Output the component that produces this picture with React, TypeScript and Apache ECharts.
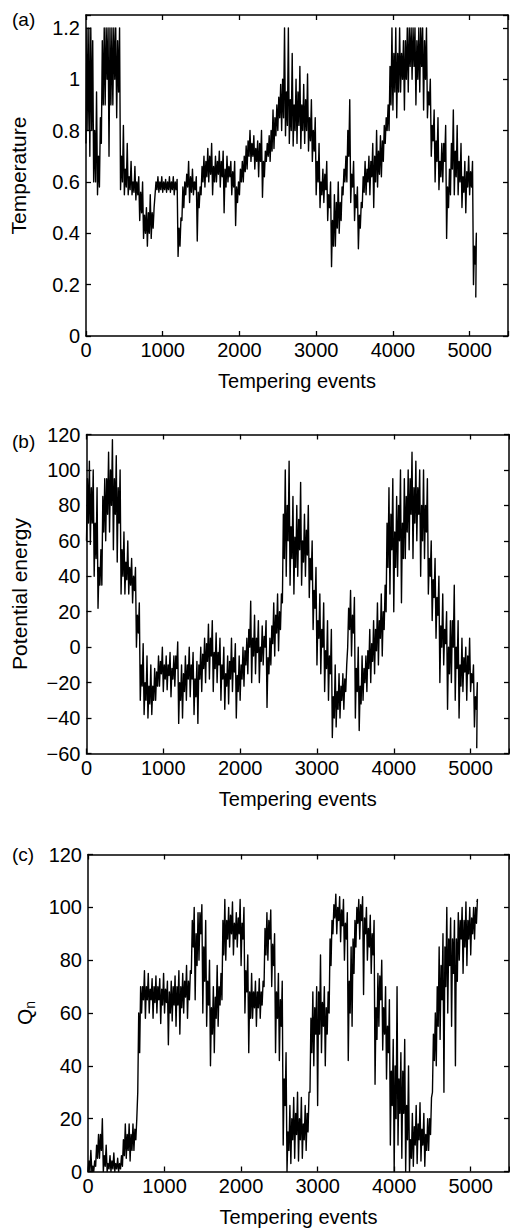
import React, { useEffect, useRef } from "react";
import * as echarts from "echarts";

// Sample positions (tempering events). In each 50-event bucket the trace swings through
// the outer excursions (low/high) and the dense core band (coreLow/coreHigh).
const sampleEvents = [
  0, 50, 100, 150, 200, 250, 300, 350, 400, 450,
  500, 550, 600, 650, 700, 750, 800, 850, 900, 950,
  1000, 1050, 1100, 1150, 1200, 1250, 1300, 1350, 1400, 1450,
  1500, 1550, 1600, 1650, 1700, 1750, 1800, 1850, 1900, 1950,
  2000, 2050, 2100, 2150, 2200, 2250, 2300, 2350, 2400, 2450,
  2500, 2550, 2600, 2650, 2700, 2750, 2800, 2850, 2900, 2950,
  3000, 3050, 3100, 3150, 3200, 3250, 3300, 3350, 3400, 3450,
  3500, 3550, 3600, 3650, 3700, 3750, 3800, 3850, 3900, 3950,
  4000, 4050, 4100, 4150, 4200, 4250, 4300, 4350, 4400, 4450,
  4500, 4550, 4600, 4650, 4700, 4750, 4800, 4850, 4900, 4950,
  5000, 5050,
];

// (a) Temperature
const tempLow = [
  0.75, 0.7, 0.6, 0.55, 0.75, 0.9, 0.7, 0.9, 0.85, 0.57,
  0.55, 0.55, 0.55, 0.53, 0.45, 0.38, 0.35, 0.38, 0.55, 0.56,
  0.56, 0.56, 0.56, 0.55, 0.31, 0.45, 0.55, 0.52, 0.55, 0.37,
  0.55, 0.58, 0.6, 0.55, 0.6, 0.58, 0.48, 0.6, 0.55, 0.43,
  0.55, 0.6, 0.65, 0.68, 0.65, 0.62, 0.54, 0.68, 0.68, 0.73,
  0.8, 0.8, 0.78, 0.75, 0.74, 0.75, 0.73, 0.75, 0.72, 0.68,
  0.55, 0.5, 0.52, 0.45, 0.27, 0.35, 0.4, 0.55, 0.6, 0.52,
  0.45, 0.34, 0.5, 0.55, 0.55, 0.5, 0.58, 0.62, 0.75, 0.8,
  0.88, 0.85, 0.95, 0.88, 0.95, 1.0, 0.9, 0.95, 0.88, 0.85,
  0.7, 0.6, 0.57, 0.6, 0.38, 0.55, 0.55, 0.55, 0.5, 0.48,
  0.55, 0.2,
];
const tempHigh = [
  1.2, 1.15, 0.95, 0.85, 1.2, 1.2, 1.2, 1.2, 1.2, 0.82,
  0.75, 0.68, 0.66, 0.62, 0.6, 0.5, 0.55, 0.5, 0.62, 0.62,
  0.61, 0.62, 0.62, 0.61, 0.46, 0.6, 0.68, 0.65, 0.62, 0.58,
  0.7, 0.73, 0.75, 0.7, 0.72, 0.72, 0.7, 0.68, 0.68, 0.6,
  0.68, 0.74, 0.8, 0.78, 0.76, 0.8, 0.72, 0.78, 0.88, 0.9,
  0.98, 1.2, 1.2, 1.1, 1.0, 1.05, 0.98, 1.02, 0.92, 0.85,
  0.75, 0.65, 0.68, 0.6, 0.55, 0.6, 0.58, 0.7, 0.92, 0.68,
  0.58, 0.52, 0.68, 0.7, 0.75, 0.8, 0.78, 0.82, 0.9, 1.2,
  1.2, 1.2, 1.15, 1.2, 1.2, 1.2, 1.2, 1.2, 1.2, 1.0,
  0.88, 0.85, 0.75, 0.82, 0.65, 0.88, 0.82, 0.75, 0.68, 0.7,
  0.68, 0.4,
];
const tempCoreLow = [
  0.8, 0.8, 0.6, 0.58, 0.9, 1.0, 0.9, 1.0, 0.95, 0.6,
  0.58, 0.57, 0.56, 0.55, 0.48, 0.4, 0.4, 0.42, 0.57, 0.57,
  0.57, 0.57, 0.57, 0.57, 0.35, 0.5, 0.58, 0.56, 0.57, 0.5,
  0.6, 0.62, 0.63, 0.6, 0.63, 0.62, 0.58, 0.62, 0.58, 0.52,
  0.6, 0.64, 0.7, 0.7, 0.68, 0.68, 0.62, 0.7, 0.72, 0.78,
  0.85, 0.85, 0.82, 0.8, 0.8, 0.82, 0.8, 0.8, 0.76, 0.72,
  0.6, 0.55, 0.57, 0.5, 0.35, 0.42, 0.45, 0.6, 0.7, 0.58,
  0.5, 0.42, 0.56, 0.6, 0.62, 0.6, 0.63, 0.68, 0.8, 0.9,
  0.95, 0.95, 1.0, 1.0, 1.05, 1.05, 1.0, 1.05, 1.0, 0.9,
  0.76, 0.68, 0.62, 0.68, 0.5, 0.65, 0.62, 0.6, 0.56, 0.58,
  0.58, 0.28,
];
const tempCoreHigh = [
  1.2, 1.2, 0.8, 0.7, 1.15, 1.2, 1.2, 1.2, 1.15, 0.7,
  0.65, 0.62, 0.6, 0.6, 0.56, 0.47, 0.48, 0.48, 0.6, 0.6,
  0.6, 0.6, 0.6, 0.6, 0.42, 0.58, 0.63, 0.62, 0.6, 0.56,
  0.66, 0.68, 0.7, 0.66, 0.68, 0.68, 0.65, 0.66, 0.64, 0.58,
  0.65, 0.7, 0.76, 0.75, 0.73, 0.75, 0.68, 0.75, 0.8, 0.85,
  0.93, 1.0, 0.95, 0.92, 0.9, 0.95, 0.9, 0.92, 0.85, 0.8,
  0.68, 0.6, 0.63, 0.55, 0.45, 0.52, 0.52, 0.65, 0.8, 0.63,
  0.55, 0.47, 0.62, 0.65, 0.68, 0.7, 0.72, 0.76, 0.85, 1.05,
  1.1, 1.1, 1.1, 1.15, 1.2, 1.2, 1.15, 1.2, 1.15, 0.95,
  0.82, 0.76, 0.68, 0.75, 0.58, 0.75, 0.72, 0.68, 0.62, 0.64,
  0.64, 0.35,
];
const tempEnd = [5080, 0.15];

// (b) Potential energy
const energyLow = [
  60, 58, 40, 22, 35, 60, 65, 55, 48, 30,
  30, 30, 25, 0, -30, -38, -40, -38, -30, -22,
  -25, -24, -28, -22, -43, -40, -30, -28, -38, -43,
  -25, -20, -18, -25, -20, -30, -35, -32, -25, -40,
  -30, -22, -15, -20, -15, -20, -10, -34, -10, -5,
  -2, 25, 40, 35, 30, 40, 35, 40, 28, 10,
  -10, -15, -25, -30, -51, -45, -40, -35, 0, -5,
  -40, -47, -30, -25, -20, -15, -10, -5, 20, 30,
  20, 40, 25, 50, 55, 50, 60, 40, 50, 30,
  15, 5, -20, -10, -35, -20, -30, -40, -25, -30,
  -25, -45,
];
const energyHigh = [
  105, 100, 90, 55, 95, 110, 117, 108, 100, 65,
  60, 50, 45, 25, 2, -5, -10, -12, -5, 0,
  -5, -3, -5, 3, -10, -5, 0, -3, -8, 0,
  5, 13, 15, 8, 5, 0, -5, 5, 2, -5,
  0, 5, 26, 18, 15, 12, 15, 5, 25, 30,
  30, 100, 105, 85, 80, 93, 75, 80, 60, 45,
  30, 25, 15, 10, -10, -15, -15, -10, 32, 28,
  0, -5, -5, 10, 15, 25, 30, 35, 90, 95,
  85, 100, 95, 100, 110, 105, 100, 100, 95, 60,
  50, 40, 30, 20, 15, 35, 15, 5, 0, 5,
  -10, -20,
];
const energyCoreLow = [
  70, 70, 50, 35, 65, 75, 80, 75, 70, 40,
  38, 35, 32, 8, -22, -30, -32, -30, -22, -15,
  -18, -16, -18, -12, -30, -25, -18, -18, -28, -18,
  -12, -8, -5, -12, -10, -18, -22, -18, -14, -25,
  -18, -10, 0, -5, -3, -8, 0, -15, 2, 8,
  10, 50, 60, 50, 45, 55, 48, 52, 38, 22,
  5, 0, -12, -15, -40, -35, -30, -25, 10, 8,
  -25, -32, -20, -12, -8, -2, 5, 10, 45, 55,
  45, 60, 50, 65, 75, 70, 75, 60, 65, 40,
  28, 18, 0, 2, -15, 0, -12, -22, -14, -15,
  -20, -35,
];
const energyCoreHigh = [
  95, 90, 70, 45, 85, 95, 100, 95, 90, 55,
  48, 45, 40, 18, -10, -20, -22, -22, -14, -8,
  -10, -10, -12, -5, -20, -15, -10, -10, -18, -10,
  -4, 2, 5, -3, -3, -10, -15, -8, -6, -16,
  -10, -2, 10, 5, 5, 0, 6, -6, 12, 18,
  20, 75, 80, 68, 62, 72, 60, 66, 50, 32,
  15, 10, -2, -5, -28, -25, -22, -18, 22, 18,
  -12, -22, -12, -2, 2, 10, 15, 20, 70, 75,
  65, 80, 70, 85, 95, 90, 90, 80, 80, 50,
  38, 28, 12, 10, 0, 15, 0, -10, -6, -5,
  -15, -28,
];
const energyEnd = [5080, -57];

// (c) Q_n
const qLow = [
  0, 0, 2, 5, 0, 0, 0, 0, 0, 2,
  5, 4, 8, 30, 60, 58, 60, 58, 60, 56,
  60, 48, 57, 55, 52, 60, 58, 75, 65, 80,
  60, 55, 40, 45, 55, 65, 80, 85, 82, 85,
  78, 60, 45, 58, 55, 58, 70, 80, 70, 45,
  42, 10, 0, 3, 5, 4, 5, 8, 30, 40,
  25, 45, 40, 60, 90, 90, 87, 80, 42, 55,
  85, 88, 67, 80, 75, 33, 55, 46, 35, 10,
  0, 10, 5, 0, 0, 2, 3, 4, 2, 8,
  30, 40, 50, 30, 60, 55, 40, 80, 75, 78,
  82, 88,
];
const qHigh = [
  8, 4, 14, 20, 10, 6, 7, 5, 6, 18,
  18, 18, 20, 70, 76, 75, 73, 74, 73, 75,
  72, 72, 74, 76, 75, 78, 76, 100, 98, 101,
  95, 80, 70, 78, 75, 103, 100, 102, 98, 103,
  100, 82, 75, 72, 73, 72, 98, 99, 90, 75,
  72, 45, 25, 28, 30, 28, 25, 30, 68, 70,
  82, 70, 68, 95, 105, 104, 103, 98, 85, 95,
  103, 104, 100, 97, 95, 75, 80, 70, 65, 50,
  70, 45, 50, 40, 22, 25, 26, 22, 20, 28,
  60, 85, 90, 100, 96, 95, 98, 100, 102, 100,
  100, 103,
];
const qCoreLow = [
  0, 0, 5, 8, 2, 1, 1, 1, 1, 6,
  8, 8, 12, 45, 65, 65, 65, 64, 65, 63,
  64, 60, 63, 63, 62, 66, 65, 85, 78, 90,
  72, 63, 52, 58, 63, 82, 88, 90, 88, 90,
  88, 68, 58, 62, 62, 63, 82, 88, 78, 58,
  55, 25, 8, 12, 14, 12, 12, 15, 45, 52,
  52, 55, 52, 78, 96, 95, 93, 88, 60, 75,
  94, 95, 90, 85, 82, 50, 65, 52, 45, 25,
  20, 22, 22, 12, 5, 10, 12, 10, 8, 14,
  42, 55, 65, 70, 78, 75, 72, 88, 85, 88,
  90, 94,
];
const qCoreHigh = [
  4, 2, 10, 14, 6, 3, 4, 3, 3, 12,
  14, 14, 16, 60, 70, 70, 69, 70, 70, 69,
  69, 68, 70, 70, 70, 72, 72, 95, 90, 98,
  85, 72, 62, 66, 70, 95, 95, 97, 94, 96,
  94, 76, 68, 68, 68, 68, 92, 95, 86, 68,
  65, 35, 15, 20, 22, 20, 18, 22, 58, 62,
  68, 64, 62, 88, 101, 100, 99, 94, 72, 88,
  100, 101, 96, 92, 90, 62, 74, 62, 55, 38,
  40, 35, 38, 25, 12, 17, 18, 16, 14, 20,
  52, 70, 78, 85, 88, 88, 88, 95, 95, 95,
  96, 100,
];
const qEnd = [5080, 102];

const xTickLabels = ["0", "1000", "2000", "3000", "4000", "5000"];
const panelLetters = ["(a)", "(b)", "(c)"];
const yNames = ["Temperature", "Potential energy", "{q|Q}{n|n}"];
const xName = "Tempering events";

const FONT = "'Liberation Sans', Arial, Helvetica, sans-serif";
const INK = "#000";

function buildTrace(lo: number[], coreHi: number[], coreLo: number[], hi: number[], end: number[]) {
  const pts: number[][] = [];
  for (let i = 0; i < sampleEvents.length; i++) {
    const e = sampleEvents[i];
    pts.push([e, lo[i]]);
    pts.push([e + 12.5, coreHi[i]]);
    pts.push([e + 25, coreLo[i]]);
    pts.push([e + 37.5, hi[i]]);
  }
  pts.push(end);
  return pts;
}

export default function App() {
  const ref = useRef<HTMLDivElement>(null);

  useEffect(() => {
    if (!ref.current) return;
    const chart = echarts.init(ref.current, undefined, { renderer: "svg" });

    const grids = [
      { left: 86, right: 2, top: 15, height: 321 },
      { left: 86.5, right: 1, top: 434.5, height: 319 },
      { left: 88, right: 1, top: 854.5, height: 317 },
    ];
    const yRanges = [
      { min: 0, max: 1.25, interval: 0.2, lastLabel: 1.2 },
      { min: -60, max: 120, interval: 20, lastLabel: 120 },
      { min: 0, max: 120, interval: 20, lastLabel: 120 },
    ];
    const yGaps = [57, 57, 51];

    const line = { show: true, onZero: false, lineStyle: { color: INK, width: 1.5 } };
    const tick = { show: true, inside: true, length: 5, lineStyle: { color: INK, width: 1.3 } };
    const labelStyle = { color: "#000", fontSize: 20, fontFamily: FONT };

    const xAxis: any[] = [];
    const yAxis: any[] = [];
    grids.forEach((_, i) => {
      xAxis.push({
        type: "value",
        gridIndex: i,
        position: "bottom",
        min: 0,
        max: 5500,
        interval: 1000,
        axisLine: line,
        axisTick: tick,
        splitLine: { show: false },
        axisLabel: {
          ...labelStyle,
          margin: 4,
          formatter: (v: number) => {
            const idx = Math.round(v / 1000);
            return Math.abs(v - idx * 1000) < 1e-6 && idx < xTickLabels.length ? xTickLabels[idx] : "";
          },
        },
        name: xName,
        nameLocation: "middle",
        nameGap: 35,
        nameTextStyle: { color: "#000", fontSize: 20, fontFamily: FONT },
      });
      xAxis.push({
        type: "value",
        gridIndex: i,
        position: "top",
        min: 0,
        max: 5500,
        interval: 1000,
        axisLine: line,
        axisTick: tick,
        axisLabel: { show: false },
        splitLine: { show: false },
      });
      const r = yRanges[i];
      yAxis.push({
        type: "value",
        gridIndex: i,
        position: "left",
        min: r.min,
        max: r.max,
        interval: r.interval,
        axisLine: line,
        axisTick: tick,
        splitLine: { show: false },
        axisLabel: {
          ...labelStyle,
          margin: 6,
          formatter: (v: number) => {
            if (v > r.lastLabel + 1e-6) return "";
            const s = String(Math.round(v * 100) / 100);
            return s.replace("-", "\u2212");
          },
        },
        name: yNames[i],
        nameLocation: "middle",
        nameGap: yGaps[i],
        nameTextStyle: {
          color: "#000",
          fontSize: 21,
          fontFamily: FONT,
          rich: {
            q: { fontSize: 21, fontFamily: FONT, color: "#000", lineHeight: 26 },
            n: { fontSize: 14, fontFamily: FONT, color: "#000", verticalAlign: "bottom", lineHeight: 12 },
          },
        },
      });
      yAxis.push({
        type: "value",
        gridIndex: i,
        position: "right",
        min: r.min,
        max: r.max,
        interval: r.interval,
        axisLine: line,
        axisTick: tick,
        axisLabel: { show: false },
        splitLine: { show: false },
      });
    });

    const traces = [
      buildTrace(tempLow, tempCoreHigh, tempCoreLow, tempHigh, tempEnd),
      buildTrace(energyLow, energyCoreHigh, energyCoreLow, energyHigh, energyEnd),
      buildTrace(qLow, qCoreHigh, qCoreLow, qHigh, qEnd),
    ];

    const series = traces.map((data, i) => ({
      type: "line",
      xAxisIndex: 2 * i,
      yAxisIndex: 2 * i,
      data,
      showSymbol: false,
      symbol: "none",
      lineStyle: { color: "#000", width: 1.4, join: "round" },
      silent: true,
    }));

    const letterY = [19, 441.5, 854];
    const graphic = panelLetters.map((t, i) => ({
      type: "text",
      x: 12,
      y: letterY[i],
      style: { text: t, fontSize: 19, fontFamily: FONT, fill: "#000", verticalAlign: "middle", align: "left" },
    }));

    chart.setOption({
      animation: false,
      backgroundColor: "#fff",
      textStyle: { fontFamily: FONT },
      grid: grids.map((g) => ({ ...g, containLabel: false, outerBoundsMode: "none" })),
      xAxis,
      yAxis,
      series,
      graphic,
    });

    return () => chart.dispose();
  }, []);

  return (
    <div
      ref={ref}
      style={{ position: "absolute", left: 0, top: 0, width: 510, height: 1229, background: "#fff" }}
    />
  );
}
